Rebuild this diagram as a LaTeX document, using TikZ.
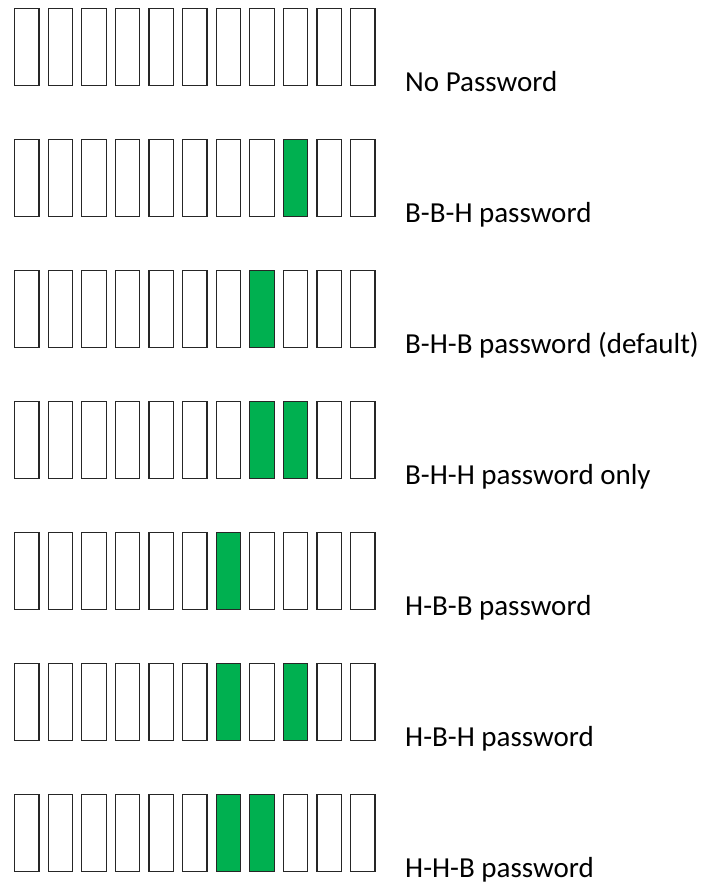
\documentclass[tikz,border=0pt]{standalone}
\usepackage{fontspec}
\setmainfont{Carlito}
\definecolor{pwgreen}{HTML}{00B050}

\begin{document}
\begin{tikzpicture}[x=1pt,y=-1pt,
    cell/.style={draw=black!85,line width=1.1pt,minimum width=24.4pt,minimum height=76.9pt,inner sep=0pt},
    pwlabel/.style={anchor=base west,inner sep=0pt,font=\fontsize{29}{35}\selectfont}]
  \useasboundingbox (0,0) rectangle (711,892);
  % one row per jumper setting: row / first on / second on / text
  \foreach \r/\a/\b/\lbl in {1/0/0/No Password, 2/9/0/B-B-H password,
      3/8/0/B-H-B password (default), 4/8/9/B-H-H password only,
      5/7/0/H-B-B password, 6/7/9/H-B-H password, 7/7/8/H-H-B password}{
    \foreach \c in {1,...,11}{
      \pgfmathtruncatemacro\on{(\c==\a)||(\c==\b)}
      \def\cellfill{white}
      \ifnum\on=1 \def\cellfill{pwgreen}\fi
      \node[cell,fill=\cellfill] (r\r c\c) at ({26.8+33.6*(\c-1)},{47.3+131*(\r-1)}) {};
    }
    \node[pwlabel] (lbl\r) at (405,{91.7+131*(\r-1)}) {\lbl};
  }
\end{tikzpicture}
\end{document}
